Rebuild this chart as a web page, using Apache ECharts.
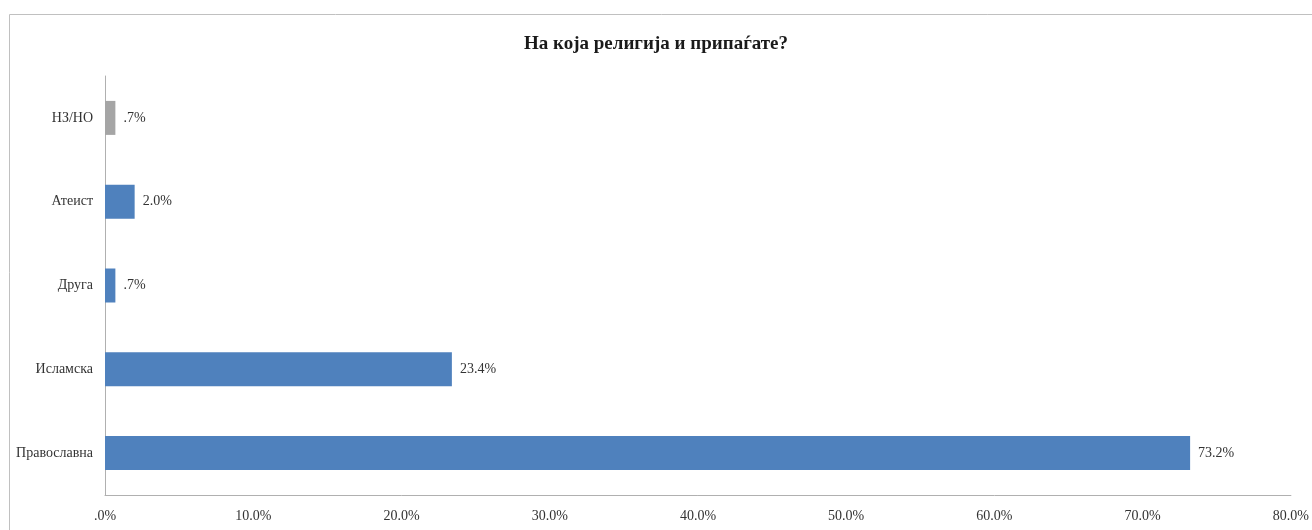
<!DOCTYPE html>
<html>
<head>
<meta charset="utf-8">
<script src="https://cdn.jsdelivr.net/npm/echarts@6/dist/echarts.min.js"></script>
<style>
  html, body { margin: 0; padding: 0; background: #fff; }
  #chart { width: 1312px; height: 530px; }
</style>
</head>
<body>
<div id="chart"></div>
<script>
// категории од долу нагоре
const categories = ['Православна', 'Исламска', 'Друга', 'Атеист', 'НЗ/НО']
const values = [73.2, 23.4, 0.7, 2.0, 0.7]
const barColors = ['#4F81BD', '#4F81BD', '#4F81BD', '#4F81BD', '#A5A5A5']
const axisTicks = [0, 10, 20, 30, 40, 50, 60, 70, 80]

const fmt = (v) => {
  const s = Number(v).toFixed(1) + '%'
  return s.startsWith('0.') ? s.slice(1) : s
}

const chartInstance = echarts.init(document.getElementById('chart'))

const option = {
  animation: false,
  textStyle: { fontFamily: 'Liberation Serif' },
  title: {
    text: 'На која религија и припаѓате?',
    left: 'center',
    top: 30,
    textStyle: {
      fontFamily: 'Liberation Serif',
      fontSize: 19,
      fontWeight: 'bold',
      color: '#1a1a1a'
    }
  },
  graphic: [{
    type: 'rect',
    shape: { x: 9.5, y: 14.5, width: 1400, height: 600 },
    style: { fill: 'none', stroke: '#c0c0c0', lineWidth: 1 },
    silent: true
  }],
  grid: { left: 105, right: 19, top: 76, bottom: 35, containLabel: false },
  xAxis: {
    type: 'value',
    min: axisTicks[0],
    max: axisTicks[axisTicks.length - 1],
    interval: 10,
    axisLine: { show: true, lineStyle: { color: '#b0b0b0' } },
    axisTick: { show: false },
    splitLine: { show: false },
    axisLabel: {
      margin: 14,
      fontSize: 14,
      color: '#333',
      fontFamily: 'Liberation Serif',
      formatter: fmt
    }
  },
  yAxis: {
    type: 'category',
    data: categories,
    axisLine: { show: true, lineStyle: { color: '#b0b0b0' } },
    axisTick: { show: false },
    axisLabel: {
      margin: 12,
      fontSize: 14,
      color: '#333',
      fontFamily: 'Liberation Serif'
    }
  },
  series: [{
    type: 'bar',
    barWidth: 34,
    data: values.map((v, i) => ({ value: v, itemStyle: { color: barColors[i] } })),
    label: {
      show: true,
      position: 'right',
      distance: 8,
      fontSize: 14,
      color: '#333',
      fontFamily: 'Liberation Serif',
      formatter: (p) => fmt(p.value)
    }
  }]
}

chartInstance.setOption(option)
</script>
</body>
</html>
